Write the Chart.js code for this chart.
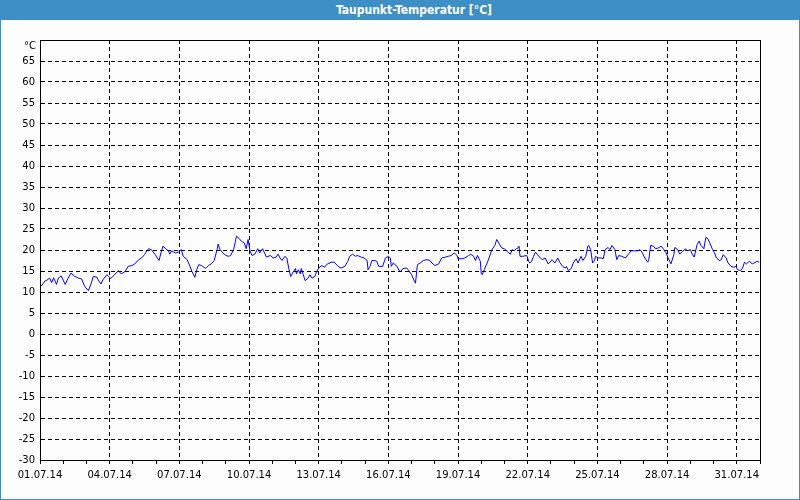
<!DOCTYPE html>
<html>
<head>
<meta charset="utf-8">
<script src="https://cdn.jsdelivr.net/npm/chart.js@4/dist/chart.umd.min.js"></script>
<style>
  html, body { margin: 0; padding: 0; background: #ffffff; }
  #wrap { position: relative; width: 800px; height: 500px; background: #fcfdfc; overflow: hidden; }
  #titlebar {
    position: absolute; left: 0; top: 0; width: 800px; height: 20px;
    box-sizing: border-box; padding-left: 28px;
    background: #3d8fc5; color: #ffffff; text-align: center;
    font: bold 12px "DejaVu Sans Condensed", "DejaVu Sans", sans-serif; line-height: 20px;
  }
  #chart { position: absolute; left: 0; top: 20px; }
  #frame {
    position: absolute; left: 0; top: 0; width: 800px; height: 500px;
    box-sizing: border-box; border: 1px solid #3d8fc5; pointer-events: none;
  }
</style>
</head>
<body>
<div id="wrap">
  <div id="titlebar">Taupunkt-Temperatur [°C]</div>
  <canvas id="chart" width="800" height="480"></canvas>
  <div id="frame"></div>
</div>
<script>
// Zeit in Stunden ab 01.07.14 00:00
const hours = [
  0, 2, 5, 7, 10, 12, 14, 16, 17, 19, 22, 26, 29, 32, 36, 40, 43, 46, 50, 53,
  55, 59, 60, 63, 65, 69, 71, 73, 77, 81, 84, 88, 91, 95, 98, 102, 105, 108, 112, 115,
  119, 123, 125, 127, 130, 133, 134, 136, 140, 143, 146, 148, 152, 155, 157, 160, 162, 164, 167, 171,
  174, 177, 180, 183, 184, 186, 189, 192, 195, 197, 200, 202, 203, 206, 208, 211, 213, 215, 217, 219,
  222, 225, 227, 230, 232, 234, 238, 241, 244, 246, 248, 250, 253, 255, 257, 259, 262, 264, 265, 267,
  269, 270, 272, 274, 277, 279, 281, 284, 286, 288, 291, 294, 297, 301, 304, 308, 311, 315, 318, 320,
  323, 326, 328, 332, 335, 338, 339, 341, 343, 346, 348, 350, 354, 357, 360, 362, 363, 365, 369, 371,
  373, 375, 379, 381, 384, 387, 388, 390, 393, 396, 400, 403, 405, 408, 412, 415, 419, 422, 425, 428,
  431, 432, 436, 439, 443, 445, 448, 450, 452, 455, 456, 457, 459, 462, 464, 467, 470, 472, 474, 477,
  480, 482, 486, 488, 490, 492, 494, 495, 496, 499, 503, 505, 506, 508, 510, 512, 514, 517, 519, 522,
  525, 527, 529, 532, 535, 537, 540, 543, 544, 546, 549, 551, 554, 556, 559, 561, 564, 566, 567, 569,
  571, 573, 574, 577, 580, 582, 584, 587, 589, 591, 594, 596, 598, 601, 605, 608, 611, 615, 618, 620,
  622, 625, 628, 629, 631, 634, 636, 639, 642, 644, 647, 649, 652, 655, 656, 659, 661, 664, 667, 669,
  672, 674, 676, 679, 681, 683, 686, 688, 690, 692, 695, 697, 699, 702, 704, 706, 709, 711, 714, 717,
  719, 721, 724, 726, 728, 730, 733, 736, 738, 741, 743
];

// Taupunkt in °C
const dewpoint = [
  11.3, 11.6, 12.6, 12.8, 13.3, 12.2, 13.4, 12.4, 11.8, 13.3, 13.8, 11.8, 13.3, 14.5, 13.7, 13.3, 13.1, 11.4, 10.3, 12.1,
  13.7, 13.5, 12.9, 11.9, 12.9, 14.1, 13.7, 13.2, 14.1, 15.1, 14.3, 14.9, 16.1, 16.3, 16.7, 17.7, 18.1, 18.9, 20.3, 20.1,
  18.9, 17.5, 19.3, 20.9, 20.3, 19.7, 19.0, 19.8, 19.3, 19.5, 20.1, 18.5, 17.7, 16.1, 14.9, 13.5, 15.3, 16.5, 16.3, 15.6,
  16.3, 16.7, 17.5, 20.1, 21.4, 20.1, 19.3, 18.7, 18.5, 18.7, 20.1, 22.1, 23.3, 22.7, 22.1, 21.7, 20.3, 22.5, 19.8, 18.7,
  19.0, 20.3, 19.3, 20.3, 19.3, 18.3, 18.7, 18.1, 18.3, 19.0, 18.1, 17.5, 18.5, 18.1, 15.7, 13.7, 14.9, 15.6, 14.3, 15.3,
  14.3, 15.6, 14.1, 12.7, 13.3, 14.1, 13.3, 13.7, 14.9, 15.7, 16.3, 15.9, 16.7, 17.1, 17.1, 16.1, 15.7, 16.1, 17.3, 18.5,
  19.0, 18.5, 18.7, 18.3, 18.1, 17.5, 15.3, 16.1, 17.5, 17.5, 17.3, 16.1, 16.1, 18.1, 18.5, 18.1, 16.1, 16.9, 16.1, 15.1,
  14.9, 15.6, 15.7, 15.1, 14.1, 12.5, 12.1, 16.5, 16.9, 17.5, 17.7, 17.5, 16.9, 16.3, 16.7, 18.1, 18.3, 18.5, 18.7, 19.3,
  18.7, 17.9, 17.9, 18.1, 18.7, 19.0, 18.5, 17.5, 18.7, 17.3, 14.3, 14.1, 15.3, 16.9, 18.1, 20.1, 21.1, 22.5, 21.7, 20.5,
  20.3, 19.8, 19.0, 20.1, 19.8, 20.3, 20.5, 20.9, 18.5, 18.5, 18.7, 17.3, 16.9, 17.3, 18.5, 19.5, 18.9, 18.1, 17.7, 18.1,
  16.7, 17.1, 17.7, 16.9, 18.1, 17.1, 16.1, 15.7, 16.1, 15.1, 15.6, 16.9, 17.9, 16.9, 18.5, 17.5, 18.5, 20.9, 21.1, 20.1,
  16.9, 17.5, 18.5, 18.1, 18.1, 17.9, 20.1, 20.6, 20.1, 21.1, 20.1, 17.7, 18.7, 18.5, 18.1, 19.0, 19.8, 19.8, 19.8, 20.1,
  19.5, 18.1, 17.1, 17.5, 21.1, 20.9, 20.3, 20.5, 20.9, 20.3, 19.3, 18.1, 16.7, 18.9, 20.6, 20.1, 19.0, 19.7, 20.3, 19.8,
  20.1, 19.0, 18.3, 21.3, 22.1, 21.1, 20.3, 23.0, 22.7, 21.7, 20.1, 19.3, 18.1, 17.5, 17.7, 18.9, 18.1, 16.9, 16.1, 15.9,
  16.1, 15.3, 15.1, 15.7, 17.1, 16.7, 17.3, 16.7, 16.9, 17.3, 17.1
];

// Beschriftung der x-Achse (alle 3 Tage)
const xTickLabels = [
  "01.07.14", "04.07.14", "07.07.14", "10.07.14", "13.07.14", "16.07.14",
  "19.07.14", "22.07.14", "25.07.14", "28.07.14", "31.07.14"
];
const yUnitLabel = "°C";

const axisFont = { family: "'DejaVu Sans', sans-serif", size: 10 };

// Rahmen um den Plotbereich + Einheit oben links
const framePlugin = {
  id: "frame",
  afterDraw(chart) {
    const { ctx, chartArea: a } = chart;
    ctx.save();
    ctx.strokeStyle = "#000";
    ctx.lineWidth = 1;
    ctx.setLineDash([]);
    ctx.strokeRect(a.left + 0.5, a.top + 0.5, a.right - a.left, a.bottom - a.top);
    ctx.fillStyle = "#000";
    ctx.font = "10px 'DejaVu Sans', sans-serif";
    ctx.textAlign = "right";
    ctx.textBaseline = "middle";
    ctx.fillText(yUnitLabel, a.left - 4, a.top + 6);
    ctx.restore();
  },
};

new Chart(document.getElementById("chart"), {
  type: "line",
  data: {
    datasets: [
      {
        label: "Taupunkt",
        data: hours.map((h, i) => ({ x: h, y: dewpoint[i] })),
        borderColor: "#0000ff",
        borderWidth: 1,
        pointRadius: 0,
        tension: 0,
        fill: false,
      },
    ],
  },
  options: {
    responsive: false,
    animation: false,
    layout: { padding: { top: 20, right: 40, left: 0, bottom: 0 } },
    plugins: {
      legend: { display: false },
      tooltip: { enabled: false },
    },
    scales: {
      x: {
        type: "linear",
        min: 0,
        max: 744,
        afterFit: (s) => { s.height = 40; },
        ticks: {
          stepSize: 24,
          autoSkip: false,
          maxRotation: 0,
          padding: 5,
          color: "#000",
          font: axisFont,
          callback: (v) => (v % 72 === 0 ? xTickLabels[v / 72] || "" : ""),
        },
        grid: {
          color: (c) => (c.tick && c.tick.value % 72 === 0 ? "#000" : "rgba(0,0,0,0)"),
          tickColor: "#000",
          tickLength: 4,
          lineWidth: 1,
        },
        border: { color: "#000", dash: [4, 3] },
      },
      y: {
        min: -30,
        max: 70,
        afterFit: (s) => { s.width = 40; },
        ticks: {
          stepSize: 5,
          padding: 5,
          color: "#000",
          font: axisFont,
          callback: (v) => (v === 70 ? "" : v),
        },
        grid: { color: "#000", drawTicks: false, lineWidth: 1 },
        border: { color: "#000", dash: [4, 3] },
      },
    },
  },
  plugins: [framePlugin],
});
</script>
</body>
</html>
